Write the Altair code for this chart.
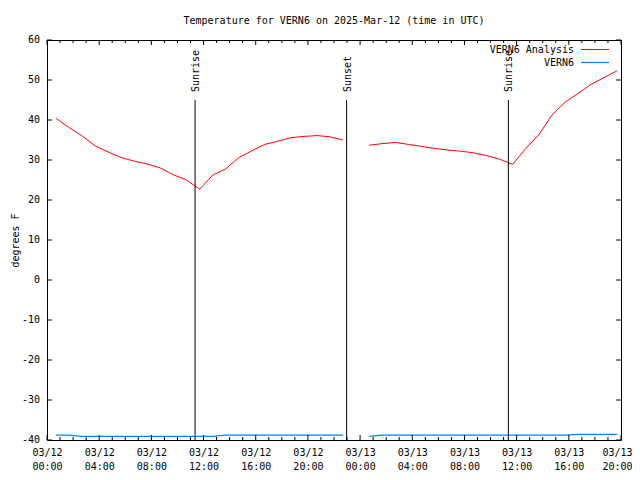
import altair as alt
import pandas as pd

FONT = "DejaVu Sans Mono"

# ---- data ----
times_day1 = [f"2025-03-12T{h:02d}:42:00Z" for h in range(23)]
times_day2 = [f"2025-03-13T{h:02d}:42:00Z" for h in range(20)]

analysis_day1 = [40.4, 38.1, 36.0, 33.5, 32.0, 30.6, 29.7, 29.0, 28.0, 26.3, 25.0, 22.7,
                 26.2, 27.8, 30.6, 32.3, 33.9, 34.7, 35.6, 35.9, 36.1, 35.8, 35.0]
analysis_day2 = [33.7, 34.1, 34.4, 33.9, 33.4, 32.9, 32.5, 32.2, 31.8, 31.1, 30.2, 28.9,
                 32.9, 36.3, 41.2, 44.4, 46.6, 48.9, 50.6, 52.3]

obs_day1 = [-38.8, -38.8, -39.1, -39.1, -39.1, -39.1, -39.1, -39.1, -39.1, -39.1, -39.1, -39.1,
            -39.1, -38.8, -38.8, -38.8, -38.8, -38.8, -38.8, -38.8, -38.8, -38.8, -38.8]
obs_day2 = [-39.1, -38.8, -38.8, -38.8, -38.8, -38.8, -38.8, -38.8, -38.8, -38.8, -38.8, -38.8,
            -38.8, -38.8, -38.8, -38.8, -38.6, -38.6, -38.6, -38.6]

sun_times = ["2025-03-12T11:21:00Z", "2025-03-12T22:58:00Z", "2025-03-13T11:22:00Z"]
sun_labels = ["Sunrise", "Sunset", "Sunrise"]

y_ticks = [-40, -30, -20, -10, 0, 10, 20, 30, 40, 50, 60]
x_start = "2025-03-12T00:00:00Z"
x_end = "2025-03-13T20:00:00Z"


def ms(s):
    return int(pd.Timestamp(s).value // 10**6)


HOUR = 3600 * 1000
t0 = ms(x_start)
t1 = ms(x_end)
hour_ms = [t0 + h * HOUR for h in range(45)]
major_ms = hour_ms[::4]
minor_ms = [t for i, t in enumerate(hour_ms) if i % 4 != 0]

# ---- tables ----
rows = []
for seg, (ts, a, o) in enumerate([(times_day1, analysis_day1, obs_day1),
                                  (times_day2, analysis_day2, obs_day2)]):
    for t, av, ov in zip(ts, a, o):
        rows.append({"time": ms(t), "analysis": av, "obs": ov, "seg": seg})
df = pd.DataFrame(rows)
sun_df = pd.DataFrame({"time": [ms(t) for t in sun_times], "label": sun_labels,
                       "top": 45, "bottom": -40, "ly": 47})
yt_df = pd.DataFrame({"v": y_ticks, "lab": [str(v) for v in y_ticks]})
maj_df = pd.DataFrame({"t": major_ms})
min_df = pd.DataFrame({"t": minor_ms})
one = pd.DataFrame({"a": [0]})

W, H = 574, 400

xscale = alt.Scale(type="utc", domain=[t0, t1])
yscale = alt.Scale(domain=[-40, 60], nice=False)

xaxis = alt.Axis(title=None, values=major_ms, tickCount=12, ticks=False, domain=False, grid=False,
                 labelExpr="[utcFormat(datum.value, '%m/%d'), utcFormat(datum.value, '%H:%M')]",
                 labelPadding=7, labelOverlap=False, labelFlush=False, labelLineHeight=14,
                 labelOffset={"condition": {"test": f"datum.value >= {t1}", "value": -4}, "value": 0})
yaxis = alt.Axis(title="degrees F", labels=False, ticks=False, domain=False,
                 grid=False, titleX=-32, titleY=200,
                 titleAngle=270, titleAlign="center", titleBaseline="middle")


def X(field):
    return alt.X(field, type="temporal", scale=xscale, axis=xaxis)


def Y(field):
    return alt.Y(field, type="quantitative", scale=yscale, axis=yaxis)


base = alt.Chart(df)
red = base.mark_line(color="#ff0000", strokeWidth=1).encode(
    x=X("time"), y=Y("analysis"), detail="seg:N")
blue = base.mark_line(color="#0080ff", strokeWidth=1.2).encode(
    x=X("time"), y=Y("obs"), detail="seg:N")

sun_rule = alt.Chart(sun_df).mark_rule(color="black", strokeWidth=1).encode(
    x=X("time"), y=Y("top"), y2="bottom:Q")
sun_text = alt.Chart(sun_df).mark_text(angle=270, align="left", baseline="middle",
                                       font=FONT, fontSize=10, color="black", dy=1).encode(
    x=X("time"), y=Y("ly"), text="label:N")

tick_style = dict(color="black", strokeWidth=1)
maj_b = alt.Chart(maj_df).mark_rule(**tick_style).encode(
    x=X("t"), y=alt.value(H), y2=alt.value(H - 5))
maj_t = alt.Chart(maj_df).mark_rule(**tick_style).encode(
    x=X("t"), y=alt.value(0), y2=alt.value(5))
min_b = alt.Chart(min_df).mark_rule(**tick_style).encode(
    x=X("t"), y=alt.value(H), y2=alt.value(H - 3))
min_t = alt.Chart(min_df).mark_rule(**tick_style).encode(
    x=X("t"), y=alt.value(0), y2=alt.value(3))
yt_l = alt.Chart(yt_df).mark_rule(**tick_style).encode(
    y=Y("v"), x=alt.value(0), x2=alt.value(5))
yt_r = alt.Chart(yt_df).mark_rule(**tick_style).encode(
    y=Y("v"), x=alt.value(W - 5), x2=alt.value(W))
yt_lab = alt.Chart(yt_df).mark_text(align="right", baseline="middle", font=FONT, fontSize=10,
                                    color="black").encode(
    y=Y("v"), x=alt.value(-7), text="lab:N")

leg_t1 = alt.Chart(one).mark_text(align="right", baseline="middle", font=FONT, fontSize=10,
                                  color="black").encode(x=alt.value(527), y=alt.value(10),
                                                        text=alt.value("VERN6 Analysis"))
leg_t2 = alt.Chart(one).mark_text(align="right", baseline="middle", font=FONT, fontSize=10,
                                  color="black").encode(x=alt.value(527), y=alt.value(23),
                                                        text=alt.value("VERN6"))
leg_l1 = alt.Chart(one).mark_rule(color="#ff0000", strokeWidth=1).encode(
    x=alt.value(534), x2=alt.value(562), y=alt.value(9.5))
leg_l2 = alt.Chart(one).mark_rule(color="#0080ff", strokeWidth=1.2).encode(
    x=alt.value(534), x2=alt.value(562), y=alt.value(22.5))

title_txt = alt.Chart(one).mark_text(align="center", baseline="middle", font=FONT, fontSize=10,
                                     color="black").encode(
    x=alt.value(287), y=alt.value(-19),
    text=alt.value("Temperature for VERN6 on 2025-Mar-12 (time in UTC)"))

chart = alt.layer(red, blue, sun_rule, sun_text, maj_b, maj_t, min_b, min_t, yt_l, yt_r, yt_lab,
                  leg_t1, leg_t2, leg_l1, leg_l2, title_txt).properties(
    width=W, height=H,
    autosize=alt.AutoSizeParams(type="none"),
    padding={"left": 39, "top": 32, "right": 11, "bottom": 32},
    background="white",
).configure_view(stroke="black", strokeWidth=1).configure_axis(
    labelFont=FONT, labelFontSize=10, labelColor="black", titleFont=FONT, titleFontSize=10,
    titleColor="black", titleFontWeight="normal")

chart.save("out.html", embed_options={"renderer": "svg", "actions": False})
